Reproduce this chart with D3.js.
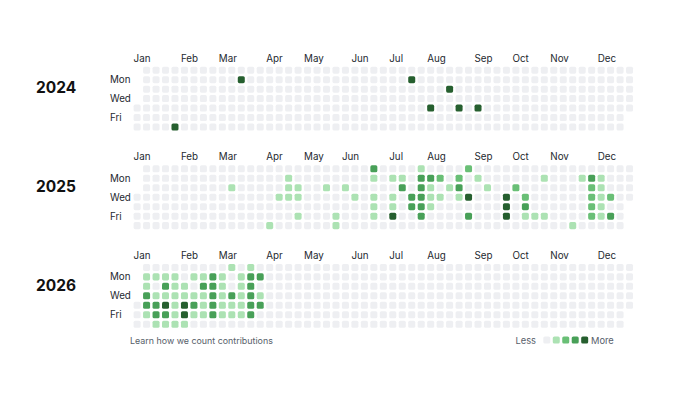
<!DOCTYPE html>
<html>
<head>
<meta charset="utf-8">
<script src="https://cdn.jsdelivr.net/npm/d3@7"></script>
<style>
  body { margin: 0; background: #fff; }
  text { font-family: Inter, "Noto Sans", sans-serif; }
</style>
</head>
<body>
<script>
const width = 680;
const height = 402;

// year labels and the calendar each row of cells is laid out on
// (the 2024 row in the picture uses a Thursday-start grid)
const years = ["2024", "2025", "2026"];
const layoutYears = [2026, 2025, 2026];

const monthNames = ["Jan", "Feb", "Mar", "Apr", "May", "Jun",
                    "Jul", "Aug", "Sep", "Oct", "Nov", "Dec"];
const dayLabels = [[1, "Mon"], [3, "Wed"], [5, "Fri"]];

const levels = [0, 1, 2, 3, 4];
const levelColors = ["#eeeff2", "#ace2b3", "#69bf76", "#48a058", "#265f2f"];

// [week column, weekday row (0 = Sun), level]
const cells2024 = [
    [4, 6, 4], [11, 1, 4], [29, 1, 4], [31, 4, 4], [33, 2, 4], [34, 4, 4], [36, 4, 4]
];

const cells2025 = [
    [25, 0, 3], [30, 0, 1], [35, 0, 2],
    [16, 1, 1], [25, 1, 1], [27, 1, 1], [28, 1, 1], [30, 1, 3], [31, 1, 3], [32, 1, 2],
    [34, 1, 2], [36, 1, 1], [43, 1, 1], [47, 1, 1], [48, 1, 3], [49, 1, 1],
    [10, 2, 1], [16, 2, 1], [17, 2, 1], [20, 2, 1], [22, 2, 1], [28, 2, 3], [30, 2, 3],
    [31, 2, 1], [33, 2, 1], [34, 2, 3], [37, 2, 1], [40, 2, 2], [48, 2, 2], [49, 2, 1],
    [15, 3, 1], [16, 3, 1], [17, 3, 1], [23, 3, 1], [25, 3, 1], [27, 3, 1], [29, 3, 3],
    [30, 3, 3], [31, 3, 1], [32, 3, 1], [34, 3, 1], [35, 3, 4], [39, 3, 4], [41, 3, 2],
    [48, 3, 2], [49, 3, 1], [50, 3, 2],
    [25, 4, 1], [27, 4, 1], [29, 4, 3], [30, 4, 3], [31, 4, 1], [39, 4, 4], [41, 4, 3],
    [48, 4, 2], [49, 4, 1],
    [17, 5, 1], [21, 5, 1], [25, 5, 1], [27, 5, 4], [30, 5, 3], [35, 5, 3], [39, 5, 4],
    [41, 5, 1], [42, 5, 1], [43, 5, 1], [48, 5, 2], [49, 5, 1], [50, 5, 3],
    [14, 6, 1], [21, 6, 1], [46, 6, 1]
];

const cells2026 = [
    [10, 0, 1], [12, 0, 1],
    [1, 1, 1], [2, 1, 1], [3, 1, 1], [4, 1, 1], [6, 1, 1], [7, 1, 1], [8, 1, 3],
    [9, 1, 1], [11, 1, 1], [12, 1, 3], [13, 1, 3],
    [1, 2, 1], [3, 2, 3], [4, 2, 1], [5, 2, 1], [7, 2, 3], [8, 2, 3], [9, 2, 1],
    [11, 2, 1], [12, 2, 3],
    [1, 3, 3], [2, 3, 1], [3, 3, 1], [4, 3, 1], [5, 3, 1], [6, 3, 1], [7, 3, 1],
    [8, 3, 3], [9, 3, 1], [10, 3, 3], [11, 3, 1], [12, 3, 3], [13, 3, 1],
    [1, 4, 3], [2, 4, 3], [3, 4, 4], [4, 4, 1], [5, 4, 4], [6, 4, 3], [7, 4, 1],
    [8, 4, 3], [9, 4, 1], [10, 4, 1], [11, 4, 1], [12, 4, 3], [13, 4, 3],
    [1, 5, 1], [2, 5, 3], [3, 5, 3], [4, 5, 1], [5, 5, 4], [6, 5, 1], [7, 5, 1],
    [8, 5, 3], [9, 5, 1], [10, 5, 1], [11, 5, 1], [12, 5, 3],
    [2, 6, 1], [3, 6, 1], [4, 6, 1], [5, 6, 1]
];

const yearCells = [cells2024, cells2025, cells2026];

const step = 9.47;
const gridLeft = 133.6;
const firstTop = 66.7;
const blockGap = 98.6;

const svg = d3.select("body").append("svg")
    .attr("width", width)
    .attr("height", height);

const color = d3.scaleOrdinal().domain(levels).range(levelColors);

const x = d3.scaleBand()
    .domain(d3.range(53))
    .range([gridLeft, gridLeft + step * (53 - 0.26)])
    .paddingInner(0.26);

years.forEach((year, i) => {
    const top = firstTop + i * blockGap;
    const y = d3.scaleBand()
        .domain(d3.range(7))
        .range([top, top + step * (7 - 0.26)])
        .paddingInner(0.26);

    const ly = layoutYears[i];
    const start = new Date(Date.UTC(ly, 0, 1));
    const end = new Date(Date.UTC(ly + 1, 0, 1));
    const days = d3.utcDays(start, end).map(d => ({
        col: d3.utcSunday.count(start, d),
        row: d.getUTCDay(),
        level: 0
    }));

    const lookup = new Map(days.map(d => [d.col + "-" + d.row, d]));
    yearCells[i].forEach(([c, r, l]) => {
        const d = lookup.get(c + "-" + r);
        if (d) d.level = l;
    });

    const g = svg.append("g");

    g.append("text")
        .attr("x", 36)
        .attr("y", top + 26.6)
        .attr("font-size", 15.5)
        .attr("font-weight", 700)
        .attr("fill", "#111")
        .text(year);

    g.selectAll(".month")
        .data(monthNames)
        .enter()
        .append("text")
        .attr("class", "month")
        .attr("x", (m, k) => {
            if (k === 0) return x(0);
            const sunday = d3.utcSunday.ceil(new Date(Date.UTC(ly, k, 1)));
            return x(d3.utcSunday.count(start, sunday));
        })
        .attr("y", top - 5.2)
        .attr("font-size", 9.8)
        .attr("fill", "#24292f")
        .text(m => m);

    g.selectAll(".day")
        .data(dayLabels)
        .enter()
        .append("text")
        .attr("class", "day")
        .attr("x", 110)
        .attr("y", d => y(d[0]) + y.bandwidth() / 2)
        .attr("dy", "0.35em")
        .attr("font-size", 9.8)
        .attr("fill", "#24292f")
        .text(d => d[1]);

    g.selectAll("rect")
        .data(days)
        .enter()
        .append("rect")
        .attr("x", d => x(d.col))
        .attr("y", d => y(d.row))
        .attr("width", x.bandwidth())
        .attr("height", y.bandwidth())
        .attr("rx", 1.6)
        .attr("fill", d => color(d.level));
});

// footer
svg.append("text")
    .attr("x", 130)
    .attr("y", 343.5)
    .attr("font-size", 8.9)
    .attr("fill", "#57606a")
    .text("Learn how we count contributions");

const legendX = d3.scaleBand()
    .domain(levels)
    .range([543.3, 543.3 + step * (5 - 0.26)])
    .paddingInner(0.26);

svg.append("text")
    .attr("x", 536)
    .attr("y", 343.5)
    .attr("text-anchor", "end")
    .attr("font-size", 9.3)
    .attr("fill", "#57606a")
    .text("Less");

svg.selectAll(".legend")
    .data(levels)
    .enter()
    .append("rect")
    .attr("class", "legend")
    .attr("x", d => legendX(d))
    .attr("y", 336.5)
    .attr("width", legendX.bandwidth())
    .attr("height", legendX.bandwidth())
    .attr("rx", 1.6)
    .attr("fill", d => color(d));

svg.append("text")
    .attr("x", 591)
    .attr("y", 343.5)
    .attr("font-size", 9.3)
    .attr("fill", "#57606a")
    .text("More");
</script>
</body>
</html>
